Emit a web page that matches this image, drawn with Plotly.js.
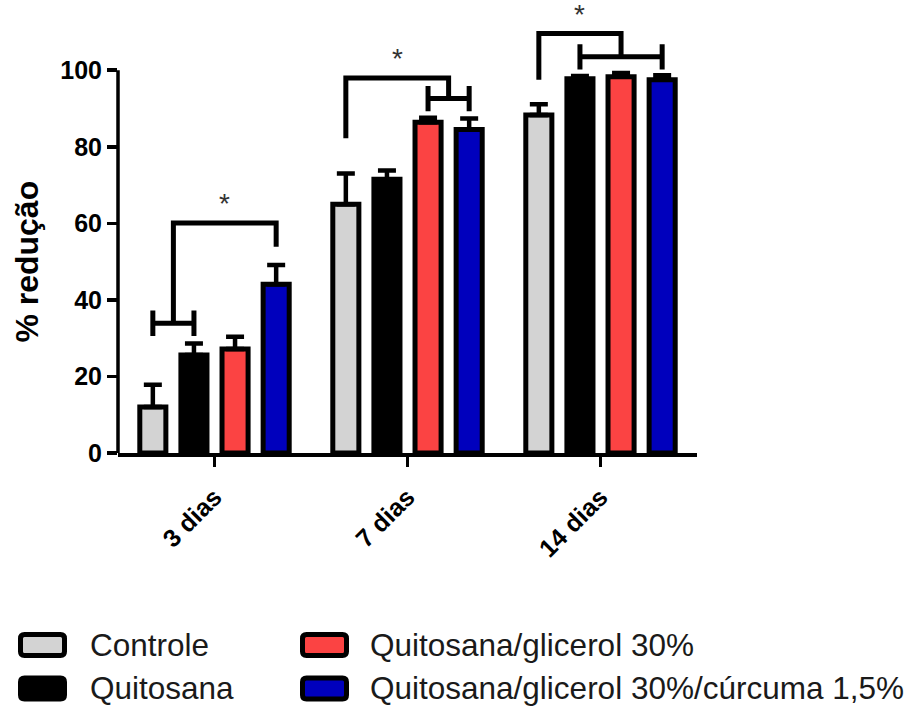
<!DOCTYPE html>
<html><head><meta charset="utf-8">
<script src="https://cdn.plot.ly/plotly-3.0.1.min.js"></script>
<style>html,body{margin:0;padding:0;background:#fff}#chart{width:908px;height:706px}</style>
</head><body><div id="chart"></div>
<script>
const categories = ['3 dias', '7 dias', '14 dias'];
const seriesNames = ['Controle', 'Quitosana', 'Quitosana/glicerol 30%', 'Quitosana/glicerol 30%/cúrcuma 1,5%'];
const seriesColors = ['#d3d3d3', '#000000', '#fb4343', '#0000bd'];
const controle = [12.0, 65.0, 88.3];
const controleErr = [5.8, 8.0, 2.8];
const quitosana = [25.6, 71.5, 97.8];
const quitosanaErr = [3.0, 2.3, 0.7];
const glicerol = [27.2, 86.4, 98.3];
const glicerolErr = [3.2, 1.2, 1.0];
const curcuma = [44.1, 84.5, 97.5];
const curcumaErr = [5.0, 2.9, 1.2];
const yTicks = [0, 20, 40, 60, 80, 100];
const yTitle = '% redução';
// significance brackets
const sigGroup = [0, 1, 2];
const sigPairFrom = [0, 2, 1];
const sigPairTo = [1, 3, 3];
const sigPairY = [33.9, 92.6, 103.5];
const sigOtherBar = [3, 0, 0];
const sigTopY = [60.1, 98.0, 109.6];
const sigOtherLegY = [53.9, 82.2, 97.5];
const sigLabel = ['*', '*', '*'];

const values = [controle, quitosana, glicerol, curcuma];
const errors = [controleErr, quitosanaErr, glicerolErr, curcumaErr];

const W = 908, H = 706;
const M = {l: 118, r: 211, t: 9, b: 253};
const plotW = W - M.l - M.r, plotH = H - M.t - M.b;
const bargap = 0.148, bargroupgap = 0.366;
const slot = (1 - bargap) / seriesNames.length;
const FONT = 'Arial, "Liberation Sans", sans-serif';

const xIdx = categories.map((c, i) => i);
const traces = seriesNames.map((name, s) => ({
  type: 'bar', name: name, x: xIdx, y: values[s],
  marker: {color: seriesColors[s], line: {color: '#000', width: 5}},
  error_y: {type: 'data', symmetric: false, array: errors[s], arrayminus: errors[s].map(() => 0),
    color: '#000', thickness: 4.5, width: 9},
  showlegend: false, hoverinfo: 'skip'
}));

function barX(g, s) { return g + (s - (seriesNames.length - 1) / 2) * slot; }
const px = x => (x - M.l) / plotW;
const py = y => (H - M.b - y) / plotH;
const shapes = [];
// y axis line from 0 to 100
shapes.push({type: 'line', xref: 'paper', yref: 'y', x0: 0, x1: 0, y0: 0, y1: yTicks[yTicks.length - 1],
  line: {color: '#000', width: 3.5}});
const annotations = [];
// y axis title centred on the 0-100 axis line
annotations.push({xref: 'paper', yref: 'y', x: px(27), y: (yTicks[0] + yTicks[yTicks.length - 1]) / 2,
  text: yTitle, textangle: -90, showarrow: false, xanchor: 'center', yanchor: 'middle',
  font: {family: FONT, size: 32, weight: 'bold', color: '#000'}});
const capH = 3.3;
sigGroup.forEach((g, k) => {
  const xa = barX(g, sigPairFrom[k]), xb = barX(g, sigPairTo[k]);
  const y = sigPairY[k];
  const mid = (xa + xb) / 2;
  const xo = barX(g, sigOtherBar[k]);
  shapes.push({type: 'path', xref: 'x', yref: 'y',
    path: `M${xa},${y - capH}L${xa},${y + capH}M${xa},${y}L${xb},${y}M${xb},${y - capH}L${xb},${y + capH}`,
    line: {color: '#000', width: 5}});
  shapes.push({type: 'path', xref: 'x', yref: 'y',
    path: `M${xo},${sigOtherLegY[k]}L${xo},${sigTopY[k]}L${mid},${sigTopY[k]}L${mid},${y}`,
    line: {color: '#000', width: 5}});
  annotations.push({xref: 'x', yref: 'y', x: (xo + mid) / 2, y: sigTopY[k], text: sigLabel[k],
    showarrow: false, yanchor: 'bottom', xanchor: 'center', yshift: 2,
    font: {family: FONT, size: 28, color: '#333'}});
});

// custom legend
const legCols = [{sx: 20.5, tx: 88}, {sx: 302.5, tx: 368}];
const legRows = [645, 688.5];
const legOrder = [[0, 0, 0], [1, 0, 1], [2, 1, 0], [3, 1, 1]];
legOrder.forEach(([s, c, r]) => {
  const x0 = legCols[c].sx, x1 = x0 + 44, yc = legRows[r];
  const y0 = yc - 10.5, y1 = yc + 10.5, rr = 4;
  const p = `M${px(x0 + rr)},${py(y0)}L${px(x1 - rr)},${py(y0)}Q${px(x1)},${py(y0)} ${px(x1)},${py(y0 + rr)}` +
    `L${px(x1)},${py(y1 - rr)}Q${px(x1)},${py(y1)} ${px(x1 - rr)},${py(y1)}L${px(x0 + rr)},${py(y1)}` +
    `Q${px(x0)},${py(y1)} ${px(x0)},${py(y1 - rr)}L${px(x0)},${py(y0 + rr)}Q${px(x0)},${py(y0)} ${px(x0 + rr)},${py(y0)}Z`;
  shapes.push({type: 'path', xref: 'paper', yref: 'paper', path: p, fillcolor: seriesColors[s],
    line: {color: '#000', width: 5}});
  annotations.push({xref: 'paper', yref: 'paper', x: px(legCols[c].tx), y: py(yc), xanchor: 'left', yanchor: 'middle',
    text: seriesNames[s], showarrow: false, font: {family: FONT, size: 31.5, color: '#1a1a1a'}});
});

const layout = {
  width: W, height: H, margin: M, paper_bgcolor: '#fff', plot_bgcolor: '#fff',
  barmode: 'group', bargap: bargap, bargroupgap: bargroupgap, showlegend: false,
  font: {family: FONT, color: '#000'},
  xaxis: {range: [-0.5, categories.length - 0.5], tickvals: xIdx, ticktext: categories, tickangle: -45,
    showline: true, linecolor: '#000', linewidth: 3.5, ticks: 'outside', ticklen: 10, tickwidth: 3.5, tickcolor: '#000',
    ticklabelstandoff: 6, showgrid: false, zeroline: false,
    tickfont: {family: FONT, size: 25, weight: 'bold', color: '#000'}},
  yaxis: {range: [0, 116], tickvals: yTicks, ticktext: yTicks.map(String), showline: false, ticks: 'outside',
    ticklen: 10, tickwidth: 3.5, tickcolor: '#000', showgrid: false, zeroline: false,
    tickfont: {family: FONT, size: 25, weight: 'bold', color: '#000'}},
  shapes: shapes, annotations: annotations
};
Plotly.newPlot('chart', traces, layout, {displayModeBar: false, staticPlot: true});
</script></body></html>
